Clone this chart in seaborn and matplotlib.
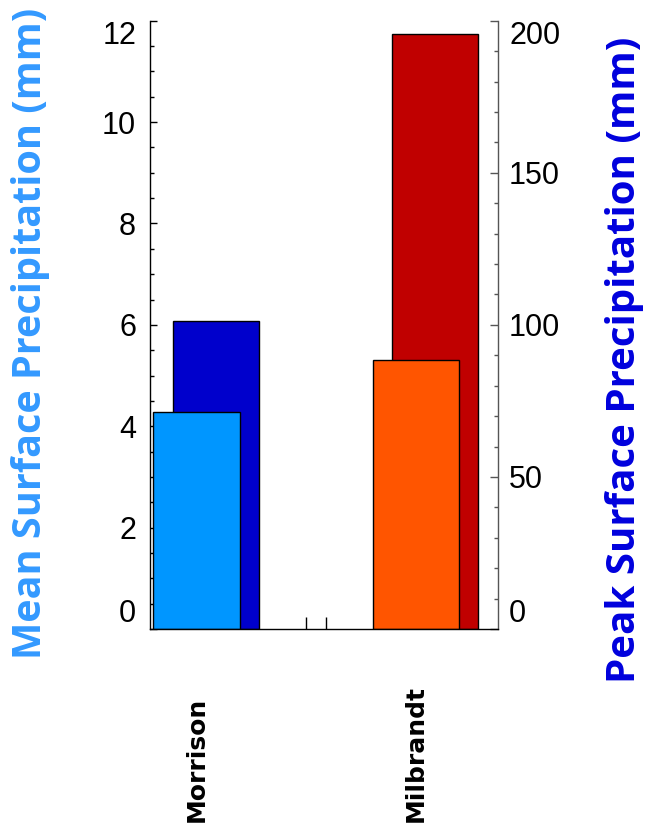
import numpy as np
import pandas as pd
import seaborn as sns
import matplotlib.pyplot as plt
from matplotlib.ticker import MultipleLocator, FixedLocator
from matplotlib.transforms import blended_transform_factory

# Microphysics schemes and their surface precipitation (mm)
schemes = ["Morrison", "Milbrandt"]
mean_precip = [4.29, 5.30]
peak_precip = [101.4, 195.7]
group_pos = [0.0, 1.0]
peak_offset = 0.088

mean_colors = ["#0096FF", "#FF5500"]
peak_colors = ["#0000CC", "#C00000"]

sns.set_theme(style="ticks")
plt.rcParams["font.family"] = ["Liberation Sans", "DejaVu Sans"]

df_mean = pd.DataFrame({"pos": group_pos, "scheme": schemes, "val": mean_precip})
df_peak = pd.DataFrame({"pos": [p + peak_offset for p in group_pos],
                        "scheme": schemes, "val": peak_precip})

fig = plt.figure(figsize=(6.48, 8.35), dpi=100)
ax = fig.add_axes([0.2315, 0.2467, 0.537, 0.7285])
ax2 = ax.twinx()

# peak bars (right axis) sit behind the mean bars (left axis)
sns.barplot(data=df_peak, x="pos", y="val", hue="scheme", palette=peak_colors,
            native_scale=True, width=0.394, dodge=False, saturation=1,
            edgecolor="black", linewidth=1, legend=False, ax=ax2)
sns.barplot(data=df_mean, x="pos", y="val", hue="scheme", palette=mean_colors,
            native_scale=True, width=0.394, dodge=False, saturation=1,
            edgecolor="black", linewidth=1, legend=False, ax=ax)
ax.set_zorder(ax2.get_zorder() + 1)
ax.patch.set_visible(False)

ax.set_xlim(-0.2125, 1.374)
ax.set_ylim(0, 12)
ax2.set_ylim(0, 200)

for a in (ax, ax2):
    a.set_xlabel("")
    a.set_ylabel("")
    a.spines["top"].set_visible(False)
ax.spines["right"].set_visible(False)
ax2.spines["left"].set_visible(False)
ax2.spines["bottom"].set_visible(False)
for s in ("left", "bottom"):
    ax.spines[s].set_color("black")
    ax.spines[s].set_linewidth(1)
ax2.spines["right"].set_color("#555555")
ax2.spines["right"].set_linewidth(1)

# x ticks
ax.xaxis.set_major_locator(FixedLocator([0.0, 0.5, 0.5 + peak_offset, 1.0]))
ax.xaxis.set_minor_locator(FixedLocator([]))
ax.tick_params(axis="x", which="major", direction="in", length=8.6, width=1,
               color="black", bottom=True, labelbottom=False)

# left axis
ax.yaxis.set_major_locator(MultipleLocator(2))
ax.yaxis.set_minor_locator(MultipleLocator(0.5))
ax.tick_params(axis="y", which="major", direction="in", length=5, width=1,
               left=True, labelsize=22, pad=10, color="black", labelcolor="black")
ax.tick_params(axis="y", which="minor", direction="in", length=2.8, width=1,
               left=True, color="black")
ax.set_yticks(np.arange(0, 13, 2))
ax.set_yticklabels([f"{v:d}" for v in range(0, 13, 2)])

# right axis
ax2.yaxis.set_major_locator(MultipleLocator(50))
ax2.yaxis.set_minor_locator(MultipleLocator(10))
ax2.tick_params(axis="y", which="major", direction="in", length=6, width=1,
                right=True, labelsize=22, pad=8, color="#555555", labelcolor="black")
ax2.tick_params(axis="y", which="minor", direction="in", length=2.8, width=1,
                right=True, color="#555555")
ax2.set_yticks(np.arange(0, 201, 50))
ax2.set_yticklabels([f"{v:d}" for v in range(0, 201, 50)])
ax2.tick_params(axis="x", bottom=False, labelbottom=False)

for a in (ax, ax2):
    labs = a.get_yticklabels()
    labs[0].set_verticalalignment("bottom")
    labs[-1].set_verticalalignment("top")

# scheme names below the axis, reading upward
trans = blended_transform_factory(ax.transData, fig.transFigure)
for p, name in zip(group_pos, schemes):
    ax.text(p, 0.0156, name, transform=trans, rotation=90, ha="center",
            va="bottom", fontsize=18, fontweight="bold", color="black",
            family=["DejaVu Sans"])

fig.text(31 / 648, 1 - 333 / 835, "Mean Surface Precipitation (mm)", rotation=90,
         ha="center", va="center", fontsize=28.5, fontweight="bold",
         color="#3399FF", family=["Open Sans", "DejaVu Sans"])
fig.text(624 / 648, 1 - 360 / 835, "Peak Surface Precipitation (mm)", rotation=90,
         ha="center", va="center", fontsize=29, fontweight="bold",
         color="#0000DD", family=["Open Sans", "DejaVu Sans"])

fig.savefig("out.png", dpi=100, facecolor="white")
